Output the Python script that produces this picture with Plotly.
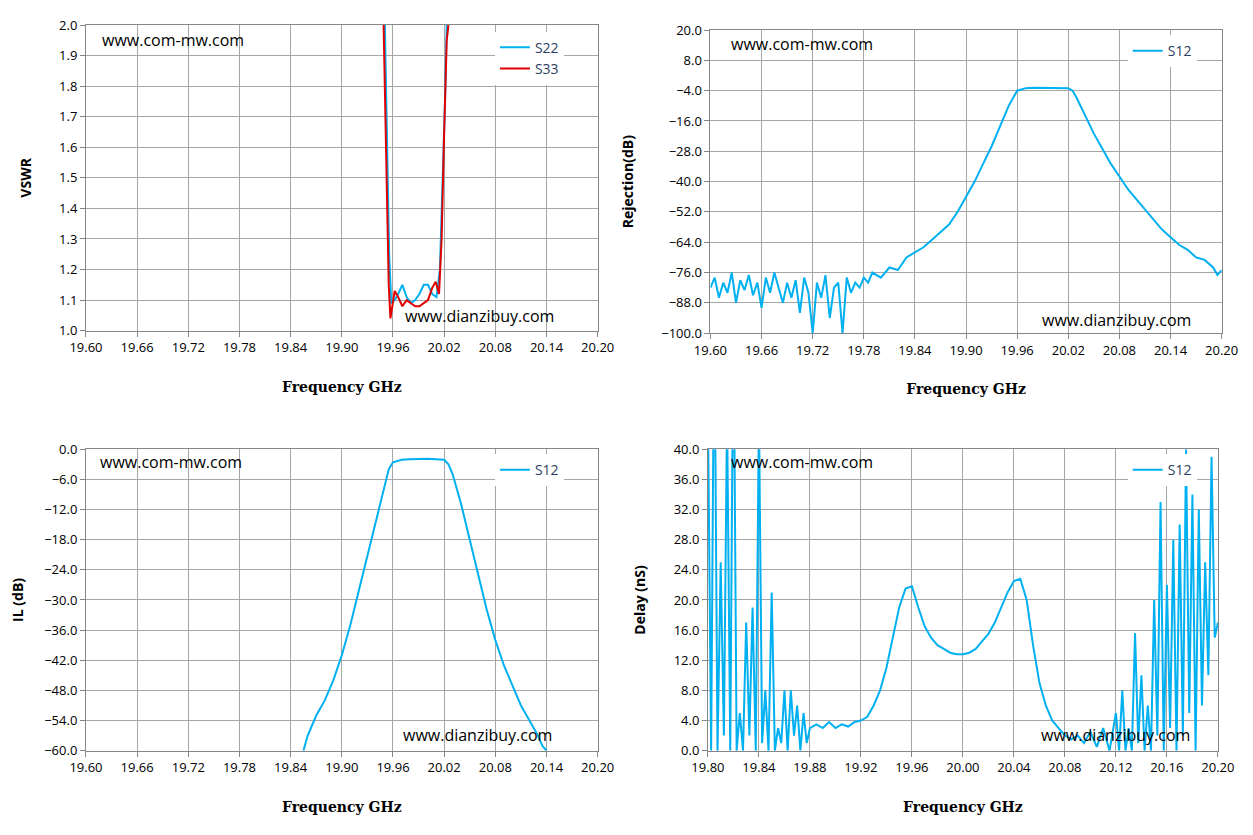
import plotly.graph_objects as go

BLUE = "#00B0F0"
RED = "#E00000"

# VSWR
vswr_f22 = [19.9505, 19.953, 19.9555, 19.958, 19.962, 19.966, 19.971, 19.976, 19.981, 19.986, 19.991, 19.996, 20.001, 20.006, 20.011, 20.015, 20.018, 20.021, 20.023]
vswr_s22 = [2.0, 1.6, 1.25, 1.09, 1.10, 1.12, 1.15, 1.11, 1.09, 1.10, 1.12, 1.15, 1.15, 1.12, 1.11, 1.20, 1.45, 1.75, 2.0]
vswr_f33 = [19.949, 19.952, 19.955, 19.957, 19.959, 19.962, 19.966, 19.971, 19.976, 19.981, 19.986, 19.991, 19.996, 20.001, 20.006, 20.010, 20.014, 20.017, 20.020, 20.023, 20.025]
vswr_s33 = [2.0, 1.55, 1.15, 1.04, 1.08, 1.13, 1.11, 1.08, 1.10, 1.09, 1.08, 1.08, 1.09, 1.10, 1.14, 1.16, 1.12, 1.30, 1.65, 1.95, 2.0]

# Rejection
rej_f = [19.600 + 0.005 * i for i in range(37)] + [19.785, 19.79, 19.80, 19.81, 19.82, 19.83, 19.84, 19.85, 19.86, 19.87, 19.88, 19.89, 19.90, 19.91, 19.92, 19.93, 19.94, 19.95, 19.96, 19.97, 19.98, 20.00, 20.02, 20.025, 20.03, 20.04, 20.05, 20.06, 20.07, 20.08, 20.09, 20.10, 20.11, 20.12, 20.13, 20.14, 20.15, 20.16, 20.17, 20.18, 20.19, 20.195, 20.20]
rej_s12 = [-82, -78, -86, -80, -84, -76, -88, -79, -83, -77, -85, -80, -90, -78, -84, -76, -82, -88, -80, -86, -79, -92, -78, -84, -100, -80, -86, -77, -94, -82, -80, -100, -78, -84, -80, -82, -78,
           -80, -76, -78, -74, -75, -70, -68, -66, -63, -60, -57, -52, -46, -40, -33, -26, -18, -10, -4, -3, -2.8, -2.8, -3.0, -4, -7, -14, -21, -27, -33, -38, -43, -47, -51, -55, -59, -62, -65, -67, -70, -71, -74, -77, -75]

# IL
il_f = [19.855, 19.86, 19.87, 19.88, 19.89, 19.90, 19.91, 19.92, 19.93, 19.94, 19.95, 19.955, 19.96, 19.97, 19.98, 20.00, 20.02, 20.025, 20.03, 20.04, 20.05, 20.06, 20.07, 20.08, 20.09, 20.10, 20.11, 20.12, 20.13, 20.135, 20.14]
il_s12 = [-60, -57, -53, -50, -46, -41, -35, -28, -21, -14, -7, -4, -2.6, -2.1, -2.0, -1.9, -2.1, -3, -5, -11, -18, -25, -32, -38, -43, -47, -51, -54, -57, -59, -60]

# Delay
dl_f = [19.8, 19.8025, 19.805, 19.8075, 19.81, 19.8125, 19.815, 19.8175, 19.82, 19.8225, 19.825, 19.8275, 19.83, 19.8325, 19.835, 19.8375, 19.84, 19.8425, 19.845, 19.8475, 19.85, 19.8525, 19.855, 19.8575, 19.86, 19.8625, 19.865, 19.8675, 19.87, 19.8725, 19.875, 19.8775, 19.88,
        19.885, 19.89, 19.895, 19.9, 19.905, 19.91, 19.915, 19.92, 19.925, 19.93, 19.935, 19.94, 19.945, 19.95, 19.955, 19.96, 19.965, 19.97, 19.975, 19.98, 19.985, 19.99, 19.995, 20.0, 20.005, 20.01, 20.015, 20.02, 20.025, 20.03, 20.035, 20.04, 20.045, 20.05, 20.055, 20.06, 20.065, 20.07, 20.075, 20.08, 20.085, 20.09, 20.095, 20.1, 20.105, 20.11, 20.115,
        20.12, 20.1225, 20.125, 20.1275, 20.13, 20.1325, 20.135, 20.1375, 20.14, 20.1425, 20.145, 20.1475, 20.15, 20.1525, 20.155, 20.1575, 20.16, 20.1625, 20.165, 20.1675, 20.17, 20.1725, 20.175, 20.1775, 20.18, 20.1825, 20.185, 20.1875, 20.19, 20.1925, 20.195, 20.1975, 20.2]
dl_s12 = [45, 0, 60, 0, 25, 2, 45, 0, 60, 0, 5, 0, 17, 2, 19, 0, 45, 1, 8, 0, 21, 0, 3, 1, 8, 0, 8, 2, 6, 0, 5, 1, 3,
          3.5, 3, 3.8, 3, 3.5, 3.2, 3.8, 4, 4.5, 6, 8, 11, 15, 19, 21.5, 21.8, 19, 16.5, 15, 14, 13.5, 13, 12.8, 12.8, 13, 13.5, 14.5, 15.5, 17, 19, 21, 22.5, 22.8, 20, 14, 9, 6, 4, 3, 2, 1.5, 2, 1, 2.5, 0.5, 3, 0,
          5, 0, 8, 0, 3, 0, 15.6, 1, 10, 0, 6, 0, 20, 2, 33, 0, 22, 3, 28, 0, 30, 2, 40, 5, 34, 0, 32, 6, 25, 10, 39, 15, 17]

x_ticks_a = [19.60 + 0.06 * i for i in range(11)]
x_ticks_d = [19.80 + 0.04 * i for i in range(11)]

TF = dict(family="Open Sans, Noto Sans", size=13, color="#000")
TITLEF = dict(family="DejaVu Serif", size=14, color="#000")

fig = go.Figure()
fig.add_trace(go.Scatter(x=vswr_f22, y=vswr_s22, name="S22", mode="lines", line=dict(color=BLUE, width=2), xaxis="x", yaxis="y", legend="legend"))
fig.add_trace(go.Scatter(x=vswr_f33, y=vswr_s33, name="S33", mode="lines", line=dict(color=RED, width=2), xaxis="x", yaxis="y", legend="legend"))
fig.add_trace(go.Scatter(x=rej_f, y=rej_s12, name="S12", mode="lines", line=dict(color=BLUE, width=2), xaxis="x2", yaxis="y2", legend="legend2"))
fig.add_trace(go.Scatter(x=il_f, y=il_s12, name="S12", mode="lines", line=dict(color=BLUE, width=2), xaxis="x3", yaxis="y3", legend="legend3"))
fig.add_trace(go.Scatter(x=dl_f, y=dl_s12, name="S12", mode="lines", line=dict(color=BLUE, width=2), xaxis="x4", yaxis="y4", legend="legend4"))

def xax(dom, anchor, ticks, rng, fmt=".2f"):
    return dict(domain=dom, anchor=anchor, range=rng, tickvals=ticks, tickformat=fmt, showgrid=True, gridcolor="#A6A6A6",
                showline=True, linecolor="#868686", mirror=True, zeroline=False, tickfont=TF, ticks="outside", tickcolor="#868686",
                automargin=False, title=dict(text="<b>Frequency GHz</b>", font=TITLEF, standoff=26))

def yax(dom, anchor, rng, dt, fmt, title):
    return dict(domain=dom, anchor=anchor, range=rng, dtick=dt, tick0=rng[0], tickformat=fmt, showgrid=True, gridcolor="#A6A6A6",
                showline=True, linecolor="#868686", mirror=True, zeroline=False, tickfont=TF, ticks="outside", tickcolor="#868686",
                automargin=False, title=dict(text="<b>" + title + "</b>", font=dict(family="Open Sans", size=14, color="#000"), standoff=24))

leg = lambda x, y: dict(x=x, y=y, xanchor="left", yanchor="top", bgcolor="white", font=dict(family="Open Sans", size=14), borderwidth=0)

dx = 8 / 1253
dy = 8 / 835
def hd(a, b): return [a - dx, b - dx]
def vd(a, b): return [a + dy, b + dy]

fig.update_layout(
    width=1253, height=835, margin=dict(l=0, r=0, t=0, b=0), plot_bgcolor="white", paper_bgcolor="white", showlegend=True,
    xaxis=xax(hd(0.0686, 0.477), "y", x_ticks_a, [19.60, 20.20]),
    yaxis=yax(vd(0.604, 0.970), "x", [1.0, 2.0], 0.1, ".1f", "VSWR"),
    xaxis2=xax(hd(0.567, 0.975), "y2", x_ticks_a, [19.60, 20.20]),
    yaxis2=yax(vd(0.601, 0.964), "x2", [-100, 20], 12, ".1f", "Rejection(dB)"),
    xaxis3=xax(hd(0.0686, 0.477), "y3", x_ticks_a, [19.60, 20.20]),
    yaxis3=yax(vd(0.101, 0.462), "x3", [-60, 0], 6, ".1f", "IL (dB)"),
    xaxis4=xax(hd(0.565, 0.972), "y4", x_ticks_d, [19.80, 20.20]),
    yaxis4=yax(vd(0.101, 0.462), "x4", [0, 40], 4, ".1f", "Delay (nS)"),
    legend=leg(0.395 - dx, 0.962 + dy),
    legend2=leg(0.90 - dx, 0.958 + dy),
    legend3=leg(0.395 - dx, 0.456 + dy),
    legend4=leg(0.900 - dx, 0.456 + dy),
)

wm = [(0.08, 0.952, "www.com-mw.com"), (0.322, 0.622, "www.dianzibuy.com"),
      (0.582, 0.947, "www.com-mw.com"), (0.83, 0.617, "www.dianzibuy.com"),
      (0.078, 0.447, "www.com-mw.com"), (0.32, 0.120, "www.dianzibuy.com"),
      (0.582, 0.447, "www.com-mw.com"), (0.829, 0.120, "www.dianzibuy.com")]
for x, y, t in wm:
    fig.add_annotation(x=x - dx, y=y + dy, xref="paper", yref="paper", text=t, showarrow=False, xanchor="left", yanchor="middle",
                       font=dict(family="Open Sans", size=16, color="#000"))

fig.write_html("out.html")
